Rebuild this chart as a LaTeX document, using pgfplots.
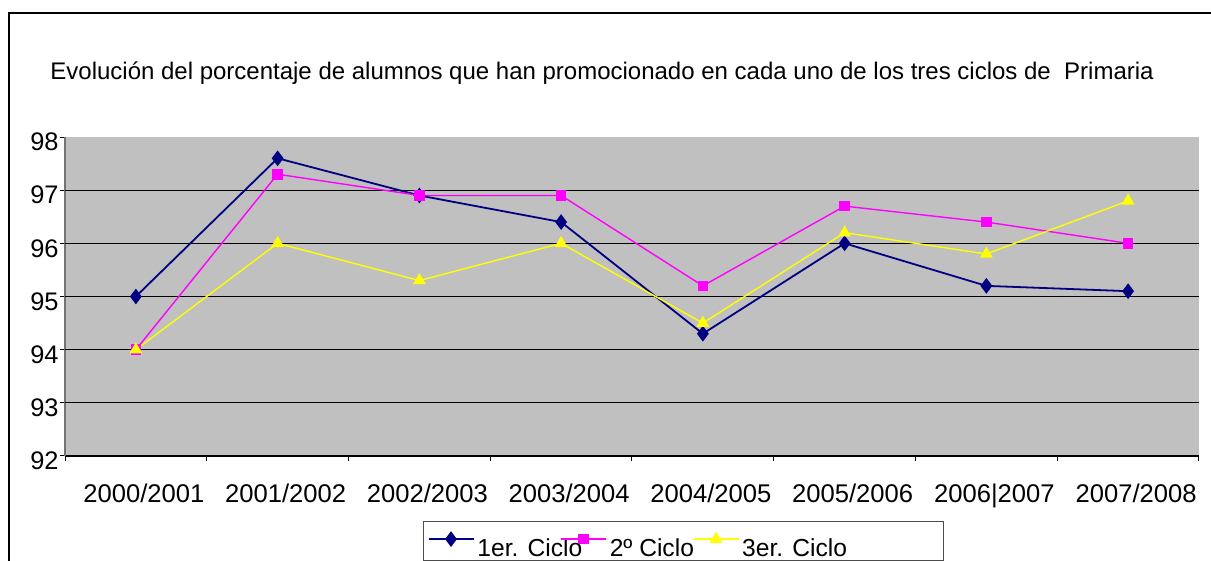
\documentclass[border=0pt]{standalone}
\usepackage{pgfplots}
\pgfplotsset{compat=1.18}
\usepackage{fontspec}
\setmainfont{Liberation Sans}

\definecolor{plotgray}{RGB}{192,192,192}
\definecolor{navyline}{RGB}{0,0,128}
\definecolor{magline}{RGB}{255,0,255}
\definecolor{yelline}{RGB}{255,255,0}

\begin{document}
\begin{tikzpicture}
\useasboundingbox (0,0) rectangle (605.5pt,280.5pt);
% outer chart frame (only top and left edges are visible)
\draw[line width=1pt] (4.5pt,0) -- (4.5pt,274pt) -- (606pt,274pt);
\node[anchor=base west, inner sep=0pt, font=\fontsize{12}{14}\selectfont]
  at (25pt,240.5pt)
  {Evolución del porcentaje de alumnos que han promocionado en cada uno de los tres ciclos de\ \ Primaria};

\begin{axis}[
    at={(32.5pt,52.5pt)}, anchor=south west,
    scale only axis,
    width=567pt, height=159.5pt,
    xmin=0, xmax=8, ymin=92, ymax=98,
    axis background/.style={fill=plotgray},
    axis x line*=bottom, axis y line*=left,
    x axis line style={black, line width=0.7pt},
    y axis line style={black!55, line width=0.7pt},
    tick align=outside, major tick length=2.5pt,
    tick style={black, line width=0.5pt},
    xtick={0,...,8}, xticklabels={},
    extra x ticks={0.5,1.5,...,7.5},
    extra x tick labels={2000/2001,2001/2002,2002/2003,2003/2004,2004/2005,2005/2006,2006|2007,2007/2008},
    extra x tick style={major tick length=0pt,
        tick label style={font=\fontsize{12.8}{14}\selectfont, yshift=-10.5pt, xshift=4pt}},
    ytick={92,...,98},
    yticklabel style={font=\fontsize{12.7}{14}\selectfont, yshift=-2.5pt, inner xsep=0.5pt},
    extra y ticks={93,...,97}, extra y tick labels={},
    extra y tick style={grid=major, major tick length=0pt},
    grid style={black, line width=0.6pt},
    /pgf/number format/assume math mode=true,
    legend columns=3,
    legend style={at={(axis description cs:0.3157,-0.2038)}, anchor=north west,
        draw=black!70, line width=0.6pt,
        font=\fontsize{12.3}{14}\selectfont,
        column sep=0pt, inner xsep=2pt, inner ysep=0.5pt,
        nodes={inner xsep=1.5pt, inner ysep=0pt}},
    legend image code/.code={
        \draw[mark repeat=2,mark phase=2,#1]
        plot coordinates {(0pt,1pt) (11.25pt,1pt) (22.5pt,1pt)};},
]

\addplot[navyline, line width=0.9pt, mark=diamond*, mark size=3.2pt]
coordinates {
    (0.5,95.0) (1.5,97.6) (2.5,96.9) (3.5,96.4)
    (4.5,94.3) (5.5,96.0) (6.5,95.2) (7.5,95.1)
};
\addlegendentry{\rule{0pt}{17pt}\makebox[40pt][l]{1er. Ciclo}}

\addplot[magline, line width=0.7pt, mark=square*, mark size=2.3pt]
coordinates {
    (0.5,94.0) (1.5,97.3) (2.5,96.9) (3.5,96.9)
    (4.5,95.2) (5.5,96.7) (6.5,96.4) (7.5,96.0)
};
\addlegendentry{\rule{0pt}{17pt}\makebox[40pt][l]{2º Ciclo}}

\addplot[yelline, line width=0.7pt, mark=triangle*, mark size=3pt]
coordinates {
    (0.5,94.0) (1.5,96.0) (2.5,95.3) (3.5,96.0)
    (4.5,94.5) (5.5,96.2) (6.5,95.8) (7.5,96.8)
};
\addlegendentry{\rule{0pt}{17pt}\makebox[97pt][l]{3er. Ciclo}}

\end{axis}
\end{tikzpicture}
\end{document}
